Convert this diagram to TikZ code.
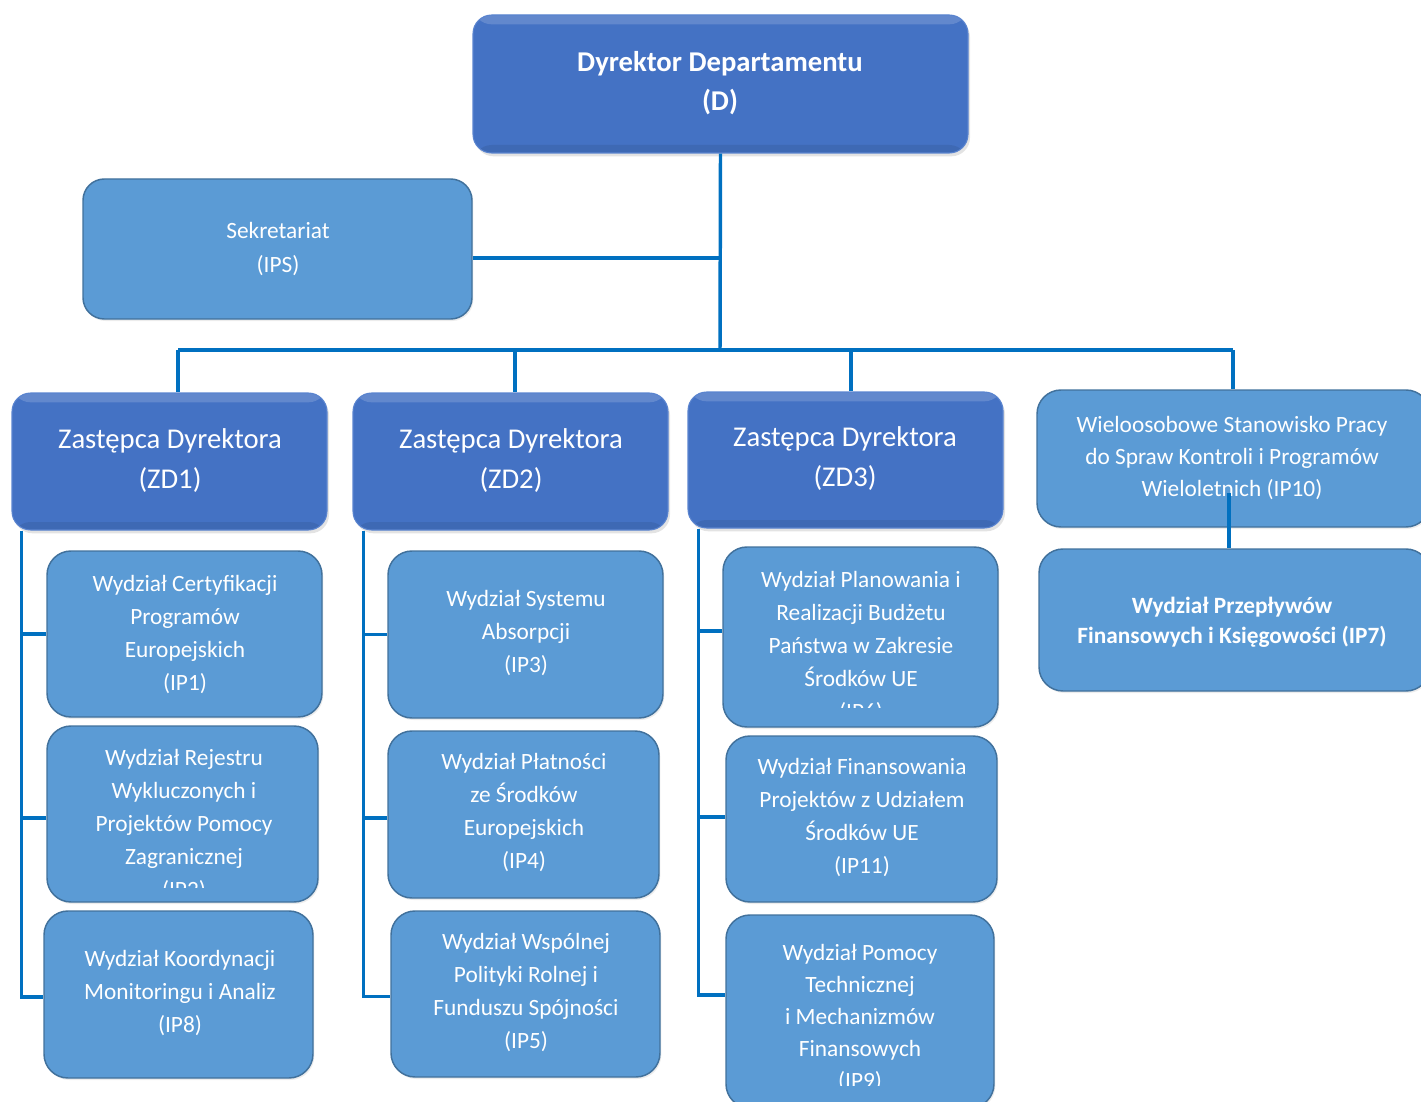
\documentclass[tikz,border=0pt]{standalone}
\usepackage{fontspec}
\setmainfont{Carlito}
\usetikzlibrary{calc,shadows}
\definecolor{darkblue}{HTML}{4472C4}
\definecolor{darkedge}{HTML}{5A84CF}
\definecolor{lightblue}{HTML}{5B9BD5}
\definecolor{lightedge}{HTML}{41719C}
\definecolor{connblue}{HTML}{0070C0}
\newcommand\obox[6]{\node[#1, minimum width={(#4-#2)*0.75pt}, minimum height={(#5-#3)*0.75pt}] (#6) at ({(#2+#4)/2},{(#3+#5)/2}) {};}
\tikzset{
  conn/.style={draw=connblue, line width=2.6pt},
  darkbox/.style={rectangle, rounded corners=14pt, fill=darkblue, draw=darkedge, line width=0.8pt, inner sep=0pt,
    drop shadow={opacity=0.22, shadow xshift=1.5pt, shadow yshift=-2.5pt},
    path picture={
      \fill[white, opacity=0.16] (path picture bounding box.north west) rectangle ([yshift=-7pt]path picture bounding box.north east);
      \fill[black, opacity=0.08] (path picture bounding box.south west) rectangle ([yshift=6pt]path picture bounding box.south east);
    }},
  lightbox/.style={rectangle, rounded corners=18pt, fill=lightblue, draw=lightedge, line width=1.1pt, inner sep=0pt,
    drop shadow={opacity=0.15, shadow xshift=1pt, shadow yshift=-1.5pt}},
  txt/.style={text=white, align=center, inner sep=0pt, font=\fontsize{17.5pt}{24.75pt}\selectfont},
  bigtxt/.style={text=white, align=center, inner sep=0pt, font=\fontsize{21.5pt}{30pt}\selectfont},
}
\begin{document}
\begin{tikzpicture}[x=0.75pt, y=-0.75pt]
\useasboundingbox (0,0) rectangle (1421,1102);
\clip (0,0) rectangle (1421,1102);

% boxes
\obox{darkbox}{473}{15}{968}{153}{d}
\obox{lightbox, rounded corners=16pt}{83}{179}{472}{319}{sek}
\obox{darkbox}{12}{393}{327}{530}{zd1}
\obox{darkbox}{353}{393}{668}{530}{zd2}
\obox{darkbox}{688}{392}{1003}{528}{zd3}
\obox{lightbox}{1037}{390}{1430}{527}{ip10}
\obox{lightbox}{1039}{549}{1430}{691}{ip7}
\obox{lightbox}{47}{551}{322}{717}{ip1}
\obox{lightbox}{47}{726}{318}{902}{ip2}
\obox{lightbox}{44}{911}{313}{1078}{ip8}
\obox{lightbox}{388}{551}{663}{718}{ip3}
\obox{lightbox}{388}{731}{659}{898}{ip4}
\obox{lightbox}{391}{911}{660}{1077}{ip5}
\obox{lightbox}{723}{547}{998}{727}{ip6}
\obox{lightbox}{726}{736}{997}{902}{ip11}
\obox{lightbox}{726}{915}{994}{1108}{ip9}

% texts
\node[bigtxt, font=\bfseries\fontsize{21.5pt}{29.25pt}\selectfont] (td) at (720,83) {Dyrektor Departamentu\\(D)};
\node[txt, font=\fontsize{17.5pt}{25.5pt}\selectfont] (tsek) at (278,249) {Sekretariat\\(IPS)};
\node[bigtxt] (tzd1) at (170,461) {Zastępca Dyrektora\\(ZD1)};
\node[bigtxt] (tzd2) at (511,461) {Zastępca Dyrektora\\(ZD2)};
\node[bigtxt] (tzd3) at (845,459) {Zastępca Dyrektora\\(ZD3)};
\node[txt, font=\fontsize{17.5pt}{24pt}\selectfont] (tip10) at (1232,458) {Wieloosobowe Stanowisko Pracy\\do Spraw Kontroli i Programów\\Wieloletnich (IP10)};
\node[txt, font=\bfseries\fontsize{17.5pt}{22.5pt}\selectfont] (tip7) at (1232,622) {Wydział Przepływów\\Finansowych i Księgowości (IP7)};
\node[txt] (tip1) at (185,635) {Wydział Certyfikacji\\Programów\\Europejskich\\(IP1)};
\begin{scope}
  \clip (47,726) rectangle (318,887);
  \node[txt] (tip2) at (184,825) {Wydział Rejestru\\Wykluczonych i\\Projektów Pomocy\\Zagranicznej\\(IP2)};
\end{scope}
\node[txt] (tip8) at (180,993) {Wydział Koordynacji\\Monitoringu i Analiz\\(IP8)};
\node[txt] (tip3) at (526,633) {Wydział Systemu\\Absorpcji\\(IP3)};
\node[txt] (tip4) at (524,813) {Wydział Płatności\\ze Środków\\Europejskich\\(IP4)};
\node[txt] (tip5) at (526,993) {Wydział Wspólnej\\Polityki Rolnej i\\Funduszu Spójności\\(IP5)};
\begin{scope}
  \clip (723,547) rectangle (998,707);
  \node[txt] (tip6) at (861,647) {Wydział Planowania i\\Realizacji Budżetu\\Państwa w Zakresie\\Środków UE\\(IP6)};
\end{scope}
\node[txt] (tip11) at (862,818) {Wydział Finansowania\\Projektów z Udziałem\\Środków UE\\(IP11)};
\begin{scope}
  \clip (726,915) rectangle (994,1085);
  \node[txt, font=\fontsize{17.5pt}{24pt}\selectfont] (tip9) at (860,1018) {Wydział Pomocy\\Technicznej\\i Mechanizmów\\Finansowych\\(IP9)};
\end{scope}

% connectors
\coordinate (bus) at (720,350);
\coordinate (b1) at (178,350);
\coordinate (b2) at (515,350);
\coordinate (b3) at (851,350);
\coordinate (b4) at (1233,350);
\draw[conn] (d.south) -- (bus);
\draw[conn] ([yshift=-6.75pt]sek.east) -- ([yshift=-6.75pt]sek.east -| bus);
\draw[conn] (b1) -- (b4);
\draw[conn] (b1) -- (b1 |- zd1.north);
\draw[conn] (b2) -- (b2 |- zd2.north);
\draw[conn] (b3) -- (b3 |- zd3.north);
\draw[conn] (b4) -- (b4 |- ip10.north);

\coordinate (c1) at ([xshift=7.5pt]zd1.south west);
\coordinate (c2) at ([xshift=8.25pt]zd2.south west);
\coordinate (c3) at ([xshift=8.25pt]zd3.south west);
\draw[conn] (c1) |- ([yshift=-2pt]ip8.west);
\draw[conn] (ip1.west) -- (ip1.west -| c1);
\draw[conn] ([yshift=-3pt]ip2.west) -- ([yshift=-3pt]ip2.west -| c1);
\draw[conn] (c2) |- ([yshift=-2pt]ip5.west);
\draw[conn] (ip3.west) -- (ip3.west -| c2);
\draw[conn] ([yshift=-2.5pt]ip4.west) -- ([yshift=-2.5pt]ip4.west -| c2);
\draw[conn] (c3) |- ($(ip9.west)+(0,-16.5)$);
\draw[conn] ([yshift=4.5pt]ip6.west) -- ([yshift=4.5pt]ip6.west -| c3);
\draw[conn] ([yshift=1.5pt]ip11.west) -- ([yshift=1.5pt]ip11.west -| c3);

\coordinate (ip10in) at (1229,493);
\draw[conn] (ip10in) -- (ip10in |- ip7.north);
\end{tikzpicture}
\end{document}
